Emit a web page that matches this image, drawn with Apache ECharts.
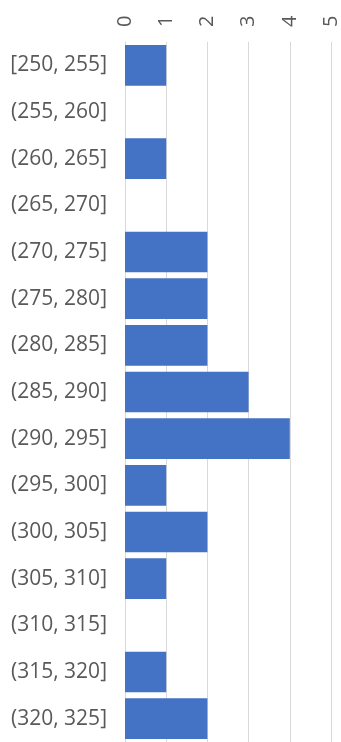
<!DOCTYPE html>
<html>
<head>
<meta charset="utf-8">
<style>
  html, body { margin: 0; padding: 0; background: #ffffff; }
  #chart { width: 341px; height: 742px; }
</style>
<script src="https://cdn.jsdelivr.net/npm/echarts@6/dist/echarts.min.js"></script>
</head>
<body>
<div id="chart"></div>
<script>
// Histogram bins and their counts
const bins = [
  '[250, 255]', '(255, 260]', '(260, 265]', '(265, 270]', '(270, 275]',
  '(275, 280]', '(280, 285]', '(285, 290]', '(290, 295]', '(295, 300]',
  '(300, 305]', '(305, 310]', '(310, 315]', '(315, 320]', '(320, 325]'
];
const counts = [1, 0, 1, 0, 2, 2, 2, 3, 4, 1, 2, 1, 0, 1, 2];
const countTicks = [0, 1, 2, 3, 4, 5];

const chart = echarts.init(document.getElementById('chart'));
chart.setOption({
  animation: false,
  backgroundColor: '#ffffff',
  grid: { left: 125, right: 9, top: 42, height: 705, containLabel: false },
  xAxis: {
    type: 'value',
    position: 'top',
    min: countTicks[0],
    max: countTicks[countTicks.length - 1],
    interval: 1,
    axisLine: { show: false },
    axisTick: { show: false },
    axisLabel: {
      rotate: -90,
      margin: 15,
      color: '#595959',
      fontSize: 20,
      fontFamily: 'Open Sans'
    },
    splitLine: { lineStyle: { color: '#d9d9d9', width: 1 } }
  },
  yAxis: {
    type: 'category',
    data: bins,
    inverse: true,
    axisLine: { show: true, lineStyle: { color: '#d9d9d9' } },
    axisTick: { show: false },
    axisLabel: {
      margin: 18,
      color: '#595959',
      fontSize: 21,
      fontFamily: 'Open Sans'
    }
  },
  series: [{
    type: 'bar',
    data: counts,
    barCategoryGap: '13%',
    itemStyle: { color: '#4472c4' }
  }]
});
</script>
</body>
</html>
